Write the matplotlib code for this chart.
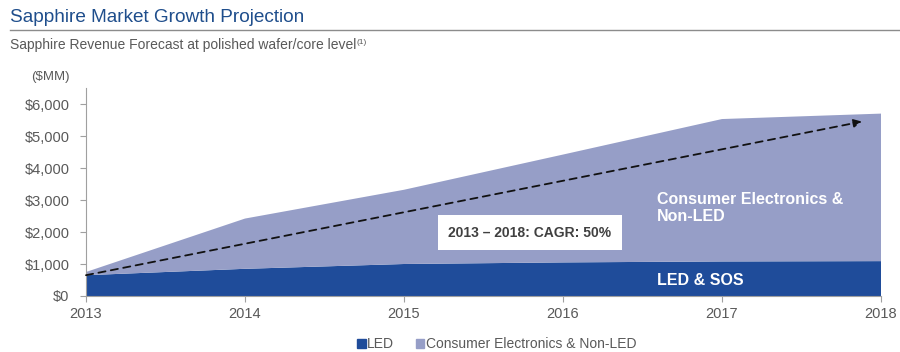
import matplotlib
matplotlib.use("Agg")
from matplotlib import pyplot as plt
from matplotlib.patches import Patch
from matplotlib.lines import Line2D

plt.rcParams["font.family"] = ["Liberation Sans", "DejaVu Sans"]

YEARS = [2013, 2014, 2015, 2016, 2017, 2018]
LED = [650, 850, 1000, 1050, 1080, 1090]
TOTAL = [750, 2420, 3320, 4420, 5530, 5700]
CONSUMER = [t - l for t, l in zip(TOTAL, LED)]
Y_TICKS = [0, 1000, 2000, 3000, 4000, 5000, 6000]
ARROW_START = (2013, 650)
ARROW_END = (2017.88, 5450)

LED_COLOR = "#1f4c9a"
CE_COLOR = "#969ec7"
GRAY = "#595959"

fig = plt.figure(figsize=(9, 3.52), dpi=100)
ax = fig.add_axes([86 / 900, 1 - 296 / 352, (881 - 86) / 900, (296 - 88) / 352])

ax.stackplot(YEARS, LED, CONSUMER, colors=[LED_COLOR, CE_COLOR], linewidth=0)

ax.annotate("", xy=ARROW_END, xytext=ARROW_START,
            arrowprops=dict(arrowstyle="-|>", color="#111111", lw=1.3,
                            linestyle=(0, (4, 3)), mutation_scale=12,
                            shrinkA=0, shrinkB=0))

ax.set_xlim(2013, 2018)
ax.set_ylim(0, 6500)
ax.set_xticks(YEARS)
ax.set_yticks(Y_TICKS)
ax.set_yticklabels(["$0" if v == 0 else "${:,}".format(v) for v in Y_TICKS])
ax.tick_params(axis="both", colors="#a0a0a0", labelcolor=GRAY, labelsize=10.5,
               length=4, width=0.8)
ax.tick_params(axis="y", pad=8)
ax.tick_params(axis="x", pad=4)
for s in ["top", "right"]:
    ax.spines[s].set_visible(False)
for s in ["left", "bottom"]:
    ax.spines[s].set_color("#a0a0a0")
    ax.spines[s].set_linewidth(0.8)

ax.text(2016.59, 2750, "Consumer Electronics &\nNon-LED", color="white",
        fontsize=11.5, fontweight="bold", va="center", ha="left", linespacing=1.1)
ax.text(2016.59, 480, "LED & SOS", color="white", fontsize=11.5,
        fontweight="bold", va="center", ha="left")
ax.text(2015.79, 1980, "2013 – 2018: CAGR: 50%", color="#404040", fontsize=10,
        fontweight="bold", ha="center", va="center",
        bbox=dict(boxstyle="square,pad=0.75", fc="white", ec="none"))

fig.text(10 / 900, 1 - 17 / 352, "Sapphire Market Growth Projection",
         color="#1f4e8c", fontsize=13.7, va="center", ha="left")
fig.add_artist(Line2D([10 / 900, 1.0], [1 - 30 / 352, 1 - 30 / 352],
                      color="#8c8c8c", lw=1))
sub = fig.text(10 / 900, 1 - 45 / 352, "Sapphire Revenue Forecast at polished wafer/core level",
               color=GRAY, fontsize=10, va="center", ha="left")
plt.annotate("(1)", xy=(1, 0.95), xycoords=sub, color=GRAY, fontsize=6,
             va="top", ha="left")
fig.text(50 / 900, 1 - 77 / 352, "($MM)", color=GRAY, fontsize=9.5, va="center", ha="center")

handles = [Patch(color=LED_COLOR, label="LED"),
           Patch(color=CE_COLOR, label="Consumer Electronics & Non-LED")]
fig.legend(handles=handles, loc="center", bbox_to_anchor=(0.552, 1 - 344 / 352),
           ncol=2, frameon=False, fontsize=10, handlelength=0.6, handleheight=0.6,
           handletextpad=0.1, columnspacing=1.6, labelcolor=GRAY)

fig.savefig("out.png", dpi=100)
